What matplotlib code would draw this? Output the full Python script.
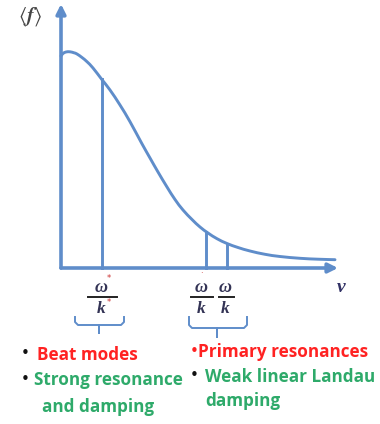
import numpy as np
import matplotlib
matplotlib.use("Agg")
import matplotlib.pyplot as plt
from matplotlib.path import Path
from matplotlib.patches import PathPatch

# ---- data (v, <f>), units ~ pixels from origin ----
v_curve = [0, 2, 5, 9, 13, 16, 21, 26, 32, 40.7, 49, 59, 69, 80.7, 89, 97, 106, 114,
           122, 131, 139, 147, 156, 166, 177, 189, 204, 219, 239, 257, 274]
f_curve = [212, 214.5, 216, 216.2, 215.2, 214, 210.5, 206.3, 200, 188.7, 178, 163,
           146.3, 124.7, 110, 96, 81, 68.5, 58, 48.5, 41, 35, 29.3, 24.5, 20.5, 17,
           13.7, 11.5, 9.7, 8.8, 8.3]
res_v = [40.7, 145, 166]        # phase velocities marked
res_f = [188.7, 36, 24.5]       # curve heights at those velocities
frac_num = ["ω", "ω", "ω"]
frac_den = ["k", "k", "k"]
frac_mark = ["*", "·", ""]

left_items = [("•", "Beat modes", "#ff2222"),
              ("•", "Strong resonance", "#2eaa6a"),
              ("", "and damping", "#2eaa6a")]
right_items = [("•", "Primary resonances", "#ff2222"),
               ("•", "Weak linear Landau", "#2eaa6a"),
               ("", "damping", "#2eaa6a")]

blue = "#5f8dca"

W, H = 380, 424
fig = plt.figure(figsize=(W / 100, H / 100), dpi=100)
fig.patch.set_facecolor("white")

# main axes: origin at pixel (61, 268)
x0, y0 = 61, 268
ax = fig.add_axes([x0 / W, (H - y0) / H, (W - x0) / W, y0 / H])
ax.set_xlim(0, W - x0)
ax.set_ylim(0, y0)
ax.axis("off")

# overlay axes in pixel coordinates for annotations
ov = fig.add_axes([0, 0, 1, 1], zorder=5)
ov.set_xlim(0, W)
ov.set_ylim(H, 0)
ov.axis("off")
ov.patch.set_alpha(0)

# axes arrows
ax.annotate("", xy=(0, 264), xytext=(0, 0),
            arrowprops=dict(arrowstyle="-|>", color=blue, lw=2.6, mutation_scale=14,
                            shrinkA=0, shrinkB=0), annotation_clip=False)
ax.annotate("", xy=(277, 0), xytext=(0, 0),
            arrowprops=dict(arrowstyle="-|>", color=blue, lw=2.6, mutation_scale=14,
                            shrinkA=0, shrinkB=0), annotation_clip=False)


# distribution curve: smooth Bezier path through the read points (Catmull-Rom)
def smooth_path(xs, ys):
    pts = np.column_stack([xs, ys]).astype(float)
    verts = [pts[0]]
    codes = [Path.MOVETO]
    n = len(pts)
    for i in range(n - 1):
        p0 = pts[i - 1] if i > 0 else pts[i]
        p1 = pts[i]
        p2 = pts[i + 1]
        p3 = pts[i + 2] if i + 2 < n else pts[i + 1]
        c1 = p1 + (p2 - p0) / 6.0
        c2 = p2 - (p3 - p1) / 6.0
        verts += [c1, c2, p2]
        codes += [Path.CURVE4] * 3
    return Path(verts, codes)


ax.add_patch(PathPatch(smooth_path(v_curve, f_curve), facecolor="none",
                       edgecolor=blue, lw=2.1, clip_on=False, capstyle="round"))

# resonance verticals
for v, f in zip(res_v, res_f):
    ax.plot([v, v], [0, f], color=blue, lw=2.1, clip_on=False)

# labels
ov.text(30, 17, r"$\langle \boldsymbol{f}\rangle$", fontsize=15, ha="center",
        va="center", color="#444444", math_fontfamily="stix")
ov.text(341, 287, "v", fontsize=14, ha="center", va="center", color="#333366",
        family="Liberation Serif", style="italic", weight="bold")

# fractions under axis
frac_x = [x0 + res_v[0] + 0.5, x0 + res_v[1] - 4, x0 + res_v[2] - 0.5]
bar_w = [29, 22, 15]
for cx, bw, num, den, mk in zip(frac_x, bar_w, frac_num, frac_den, frac_mark):
    ov.text(cx - 1, 288, num, fontsize=13, ha="center", va="center", color="#333355",
            family="Liberation Serif", style="italic", weight="bold")
    ov.text(cx - 1, 309, den, fontsize=12.5, ha="center", va="center", color="#333355",
            family="Liberation Serif", style="italic", weight="bold")
    ov.plot([cx - bw / 2, cx + bw / 2], [297, 297], color="#222222", lw=1.4)
    if mk == "*":
        ov.text(cx + 7, 279, mk, fontsize=6, ha="center", va="center", color="#cc3333")
        ov.text(cx + 7, 302, mk, fontsize=6, ha="center", va="center", color="#cc3333")
    elif mk:
        ov.text(cx - 1, 274, mk, fontsize=6, ha="center", va="center", color="#cc3333")


def brace(xl, xr, xc, top, mid, tip):
    r = 3
    xs = [xl, xl, xl + r, xc, xc, xc, xc, xr - r, xr, xr]
    ys = [top, mid - r, mid, mid, mid, tip, mid, mid, mid - r, top]
    ov.plot(xs, ys, color=blue, lw=1.4, solid_joinstyle="round")


brace(75, 124, 99, 317, 325, 333)
brace(189, 247, 217, 317, 328, 337)

# bullet texts
fam = ["Open Sans", "DejaVu Sans"]
fs = 12.3
left_pos = [(25, 37, 355), (25, 34, 380), (None, 42, 407)]
right_pos = [(194, 198, 352), (194, 205, 377), (None, 205, 401)]
for (b, t, c), (bx, tx, ty) in zip(left_items, left_pos):
    if b:
        ov.text(bx, ty - 1, b, fontsize=11, ha="center", va="center", color="#111111")
    ov.text(tx, ty, t, fontsize=fs, ha="left", va="center", color=c,
            family=fam, weight="bold")
for (b, t, c), (bx, tx, ty) in zip(right_items, right_pos):
    if b:
        ov.text(bx, ty - 1, b, fontsize=11, ha="center", va="center",
                color="#ff2222" if c == "#ff2222" else "#111111")
    ov.text(tx, ty, t, fontsize=fs, ha="left", va="center", color=c,
            family=fam, weight="bold")

fig.savefig("out.png", dpi=100, facecolor="white")
